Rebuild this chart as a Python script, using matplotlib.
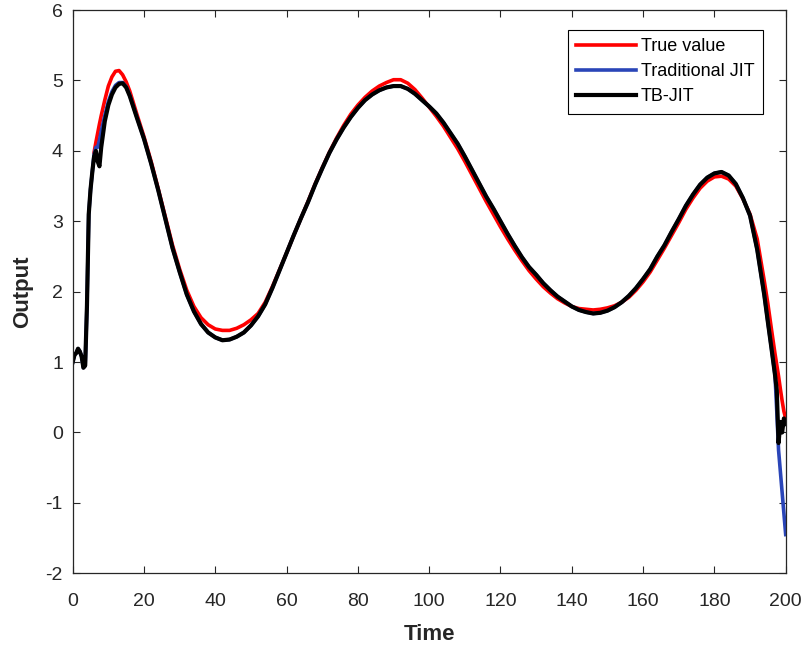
import numpy as np
import matplotlib
matplotlib.use("Agg")
import matplotlib.pyplot as plt

# sample times
time = [0, 0.5, 1, 1.5, 2, 2.5, 3, 3.5, 4, 4.5, 5, 5.5, 6, 6.5, 7, 7.5, 8,
        9, 10, 11, 12, 13, 14, 15, 16,
        18, 20, 22, 24, 26, 28, 30, 32, 34, 36, 38, 40, 42, 44, 46, 48, 50,
        52, 54, 56, 58, 60, 62, 64, 66, 68, 70, 72, 74, 76, 78, 80, 82, 84,
        86, 88, 90, 92, 94, 96, 98, 100, 102, 104, 106, 108, 110, 112, 114,
        116, 118, 120, 122, 124, 126, 128, 130, 132, 134, 136, 138, 140, 142,
        144, 146, 148, 150, 152, 154, 156, 158, 160, 162, 164, 166, 168, 170,
        172, 174, 176, 178, 180, 182, 184, 186, 188, 190, 192, 194,
        195, 196, 197, 197.5, 198, 198.5, 199, 199.5, 200]

nan = np.nan
true_value = [nan, nan, nan, nan, nan, nan, nan, nan, nan, nan, nan, nan,
              3.98, 4.12, 4.25, 4.38, 4.5,
              4.72, 4.92, 5.05, 5.13, 5.14, 5.08, 4.98, 4.85,
              4.52, 4.2, 3.85, 3.46, 3.06, 2.66, 2.32, 2.02, 1.79, 1.63, 1.53,
              1.47, 1.45, 1.45, 1.48, 1.53, 1.6, 1.69, 1.85, 2.07, 2.31, 2.55,
              2.8, 3.04, 3.28, 3.53, 3.76, 3.98, 4.18, 4.36, 4.52, 4.65, 4.76,
              4.85, 4.92, 4.97, 5.01, 5.01, 4.96, 4.87, 4.75, 4.62, 4.49, 4.35,
              4.19, 4.03, 3.85, 3.66, 3.47, 3.28, 3.1, 2.92, 2.75, 2.59, 2.44,
              2.3, 2.18, 2.07, 1.98, 1.9, 1.84, 1.79, 1.76, 1.75, 1.74, 1.75,
              1.77, 1.8, 1.85, 1.92, 2.02, 2.14, 2.28, 2.45, 2.62, 2.8, 2.98,
              3.17, 3.33, 3.47, 3.57, 3.63, 3.64, 3.6, 3.5, 3.32, 3.1, 2.75,
              2.15,
              1.83, 1.47, 1.12, 0.96, 0.8, 0.62, 0.45, 0.3, 0.2]

traditional_jit = [1.0, 1.1, 1.13, 1.19, 1.15, 1.08, 0.92, 0.95, 1.8, 3.1,
                   3.45, 3.7, 3.95, 4.05, 4.05, 4.15, 4.28,
                   4.5, 4.7, 4.84, 4.93, 4.97, 4.97, 4.91, 4.79,
                   4.48, 4.17, 3.82, 3.44, 3.03, 2.62, 2.28, 1.96, 1.72, 1.54,
                   1.42, 1.35, 1.31, 1.32, 1.36, 1.42, 1.52, 1.65, 1.82, 2.05,
                   2.3, 2.55, 2.8, 3.04, 3.27, 3.52, 3.75, 3.97, 4.16, 4.33,
                   4.48, 4.61, 4.72, 4.8, 4.86, 4.9, 4.92, 4.92, 4.88, 4.81,
                   4.72, 4.63, 4.53, 4.4, 4.25, 4.1, 3.92, 3.73, 3.54, 3.35,
                   3.18, 3.0, 2.82, 2.65, 2.49, 2.35, 2.24, 2.12, 2.02, 1.93,
                   1.86, 1.79, 1.74, 1.71, 1.69, 1.7, 1.73, 1.78, 1.85, 1.94,
                   2.05, 2.18, 2.32, 2.5, 2.66, 2.85, 3.03, 3.22, 3.38, 3.52,
                   3.62, 3.68, 3.7, 3.65, 3.53, 3.33, 3.08, 2.6, 1.95,
                   1.57, 1.2, 0.82, 0.3, -0.25, -0.55, -0.85, -1.15, -1.45]

tb_jit = [1.0, 1.1, 1.13, 1.19, 1.15, 1.08, 0.92, 0.95, 1.8, 3.1,
          3.45, 3.7, 3.92, 4.0, 3.85, 3.78, 4.05,
          4.42, 4.65, 4.8, 4.9, 4.95, 4.96, 4.9, 4.78,
          4.47, 4.17, 3.82, 3.44, 3.03, 2.62, 2.28, 1.96, 1.72, 1.54,
          1.42, 1.35, 1.31, 1.32, 1.36, 1.42, 1.52, 1.65, 1.82, 2.05,
          2.3, 2.55, 2.8, 3.04, 3.27, 3.52, 3.75, 3.97, 4.16, 4.33,
          4.48, 4.61, 4.72, 4.8, 4.86, 4.9, 4.92, 4.92, 4.88, 4.81,
          4.72, 4.63, 4.53, 4.4, 4.25, 4.1, 3.92, 3.73, 3.54, 3.35,
          3.18, 3.0, 2.82, 2.65, 2.49, 2.35, 2.24, 2.12, 2.02, 1.93,
          1.86, 1.79, 1.74, 1.71, 1.69, 1.7, 1.73, 1.78, 1.85, 1.94,
          2.05, 2.18, 2.32, 2.5, 2.66, 2.85, 3.03, 3.22, 3.38, 3.52,
          3.62, 3.68, 3.7, 3.65, 3.53, 3.33, 3.08, 2.6, 1.95,
          1.57, 1.2, 0.82, 0.6, -0.15, 0.15, 0.0, 0.2, 0.12]

x_ticks = [0, 20, 40, 60, 80, 100, 120, 140, 160, 180, 200]
y_ticks = [-2, -1, 0, 1, 2, 3, 4, 5, 6]

plt.rcParams['font.family'] = ['Liberation Sans', 'DejaVu Sans']
plt.rcParams['axes.unicode_minus'] = False

fig = plt.figure(figsize=(8.06, 6.46), dpi=100)
ax = fig.add_axes([0.0902, 0.1125, 0.8846, 0.872])

ax.plot(time, true_value, color='#ff0000', lw=2.6, label='True value')
ax.plot(time, traditional_jit, color='#2a45b8', lw=2.6, label='Traditional JIT')
ax.plot(time, tb_jit, color='black', lw=3.0, label='TB-JIT')

ax.set_xlim(0, 200)
ax.set_ylim(-2, 6)
ax.set_xticks(x_ticks)
ax.set_yticks(y_ticks)
ax.tick_params(direction='in', length=5, width=0.8, colors='#262626',
               labelsize=14, top=True, right=True)
ax.tick_params(axis='x', pad=14)
ax.tick_params(axis='y', pad=7)
for s in ax.spines.values():
    s.set_color('#262626')
    s.set_linewidth(0.9)

ax.set_xlabel('Time', fontsize=16, fontweight='bold', color='#262626', labelpad=10)
ax.set_ylabel('Output', fontsize=16, fontweight='bold', color='#262626', labelpad=9)

leg = ax.legend(loc='upper right', bbox_to_anchor=(0.968, 0.9645),
                borderaxespad=0, fontsize=13,
                handlelength=3.3, handletextpad=0.3, labelspacing=0.45,
                borderpad=0.45, fancybox=False, framealpha=1)
leg.get_frame().set_edgecolor('black')
leg.get_frame().set_linewidth(0.8)

fig.savefig('out.png', dpi=100)
